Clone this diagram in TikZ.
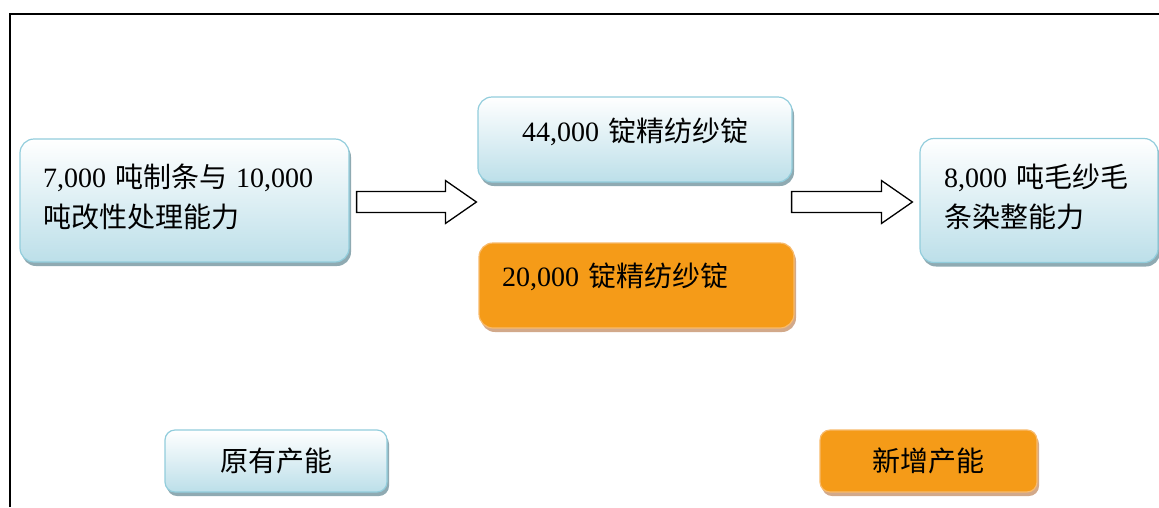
\documentclass[tikz,border=0pt]{standalone}
\usepackage{fontspec}
\setmainfont{Liberation Serif}
\newfontfamily\cjk{Noto Sans CJK SC}
\usetikzlibrary{shadows,calc}

\definecolor{capline}{HTML}{92CDDC}
\definecolor{capfill}{HTML}{BCDFE9}
\definecolor{capshade}{HTML}{8FAAB2}
\definecolor{addfill}{HTML}{F59B18}
\definecolor{addline}{HTML}{F8BA6C}
\definecolor{addshade}{HTML}{D2A98A}

\newcommand{\zh}[1]{{\cjk #1}}
\newcommand{\gap}{\hspace{9pt}}
% hollow block arrow from #1 to #2
\newcommand{\hollowarrow}[2]{%
   \draw[blockline] ($(#1)+(0,-10.5)$) -- ($(#2)+(-31,-10.5)$)
       -- ($(#2)+(-31,-21.5)$) -- (#2) -- ($(#2)+(-31,21.5)$)
       -- ($(#2)+(-31,10.5)$) -- ($(#1)+(0,10.5)$) -- cycle;}

\begin{document}
\begin{tikzpicture}[x=1pt,y=-1pt]
       \tikzstyle{every node}=[font=\fontsize{28}{40}\selectfont]
       \tikzstyle{oldcap}=[draw=capline, line width=1.2pt, rounded corners=14pt,
          top color=white, bottom color=capfill, inner sep=0pt,
          drop shadow={shadow xshift=2pt, shadow yshift=-4pt, fill=capshade, opacity=1}]
       \tikzstyle{newcap}=[draw=addline, line width=1.2pt, rounded corners=14pt,
          fill=addfill, inner sep=0pt,
          drop shadow={shadow xshift=2pt, shadow yshift=-4pt, fill=addshade, opacity=1}]
       \tikzstyle{blockline}=[draw=black, line width=1.3pt, fill=white]

   \useasboundingbox (0,0) rectangle (1159,507);
   \draw[line width=1.5pt] (10,507) -- (10,14) -- (1159,14);

% existing capacity
   \node[oldcap, minimum width=329, minimum height=123, text width=283, align=left,
         text depth=50]
      (orig) at (184.5,200.5) {7,000\gap\zh{吨制条与}\gap10,000\\\zh{吨改性处理能力}};
   \node[oldcap, minimum width=314, minimum height=85, text depth=19]
      (spin) at (635,139.5) {44,000\gap\zh{锭精纺纱锭}};
   \node[oldcap, minimum width=238, minimum height=124, text width=190, align=left,
         text depth=50]
      (dye) at (1039,200.5) {8,000\gap\zh{吨毛纱毛}\\\zh{条染整能力}};

% added capacity
   \node[newcap, minimum width=315, minimum height=85, text width=269, align=left,
         text depth=21]
      (spinadd) at (636.5,285.5) {20,000\gap\zh{锭精纺纱锭}};

% flow
   \coordinate (a1s) at ($(orig.east)+(7,1.5)$);
   \coordinate (a1e) at ($(spin.west |- a1s)+(-1,0)$);
   \coordinate (a2s) at ($(spin.east |- a1s)+(-1,0)$);
   \coordinate (a2e) at ($(dye.west |- a1s)+(-7,0)$);
   \hollowarrow{a1s}{a1e}
   \hollowarrow{a2s}{a2e}

% legend
   \node[oldcap, rounded corners=10pt, minimum width=222, minimum height=62]
      (keyold) at (276,461) {\zh{原有产能}};
   \node[newcap, rounded corners=10pt, minimum width=217, minimum height=62]
      (keynew) at (928.5,461) {\zh{新增产能}};

\end{tikzpicture}
\end{document}
